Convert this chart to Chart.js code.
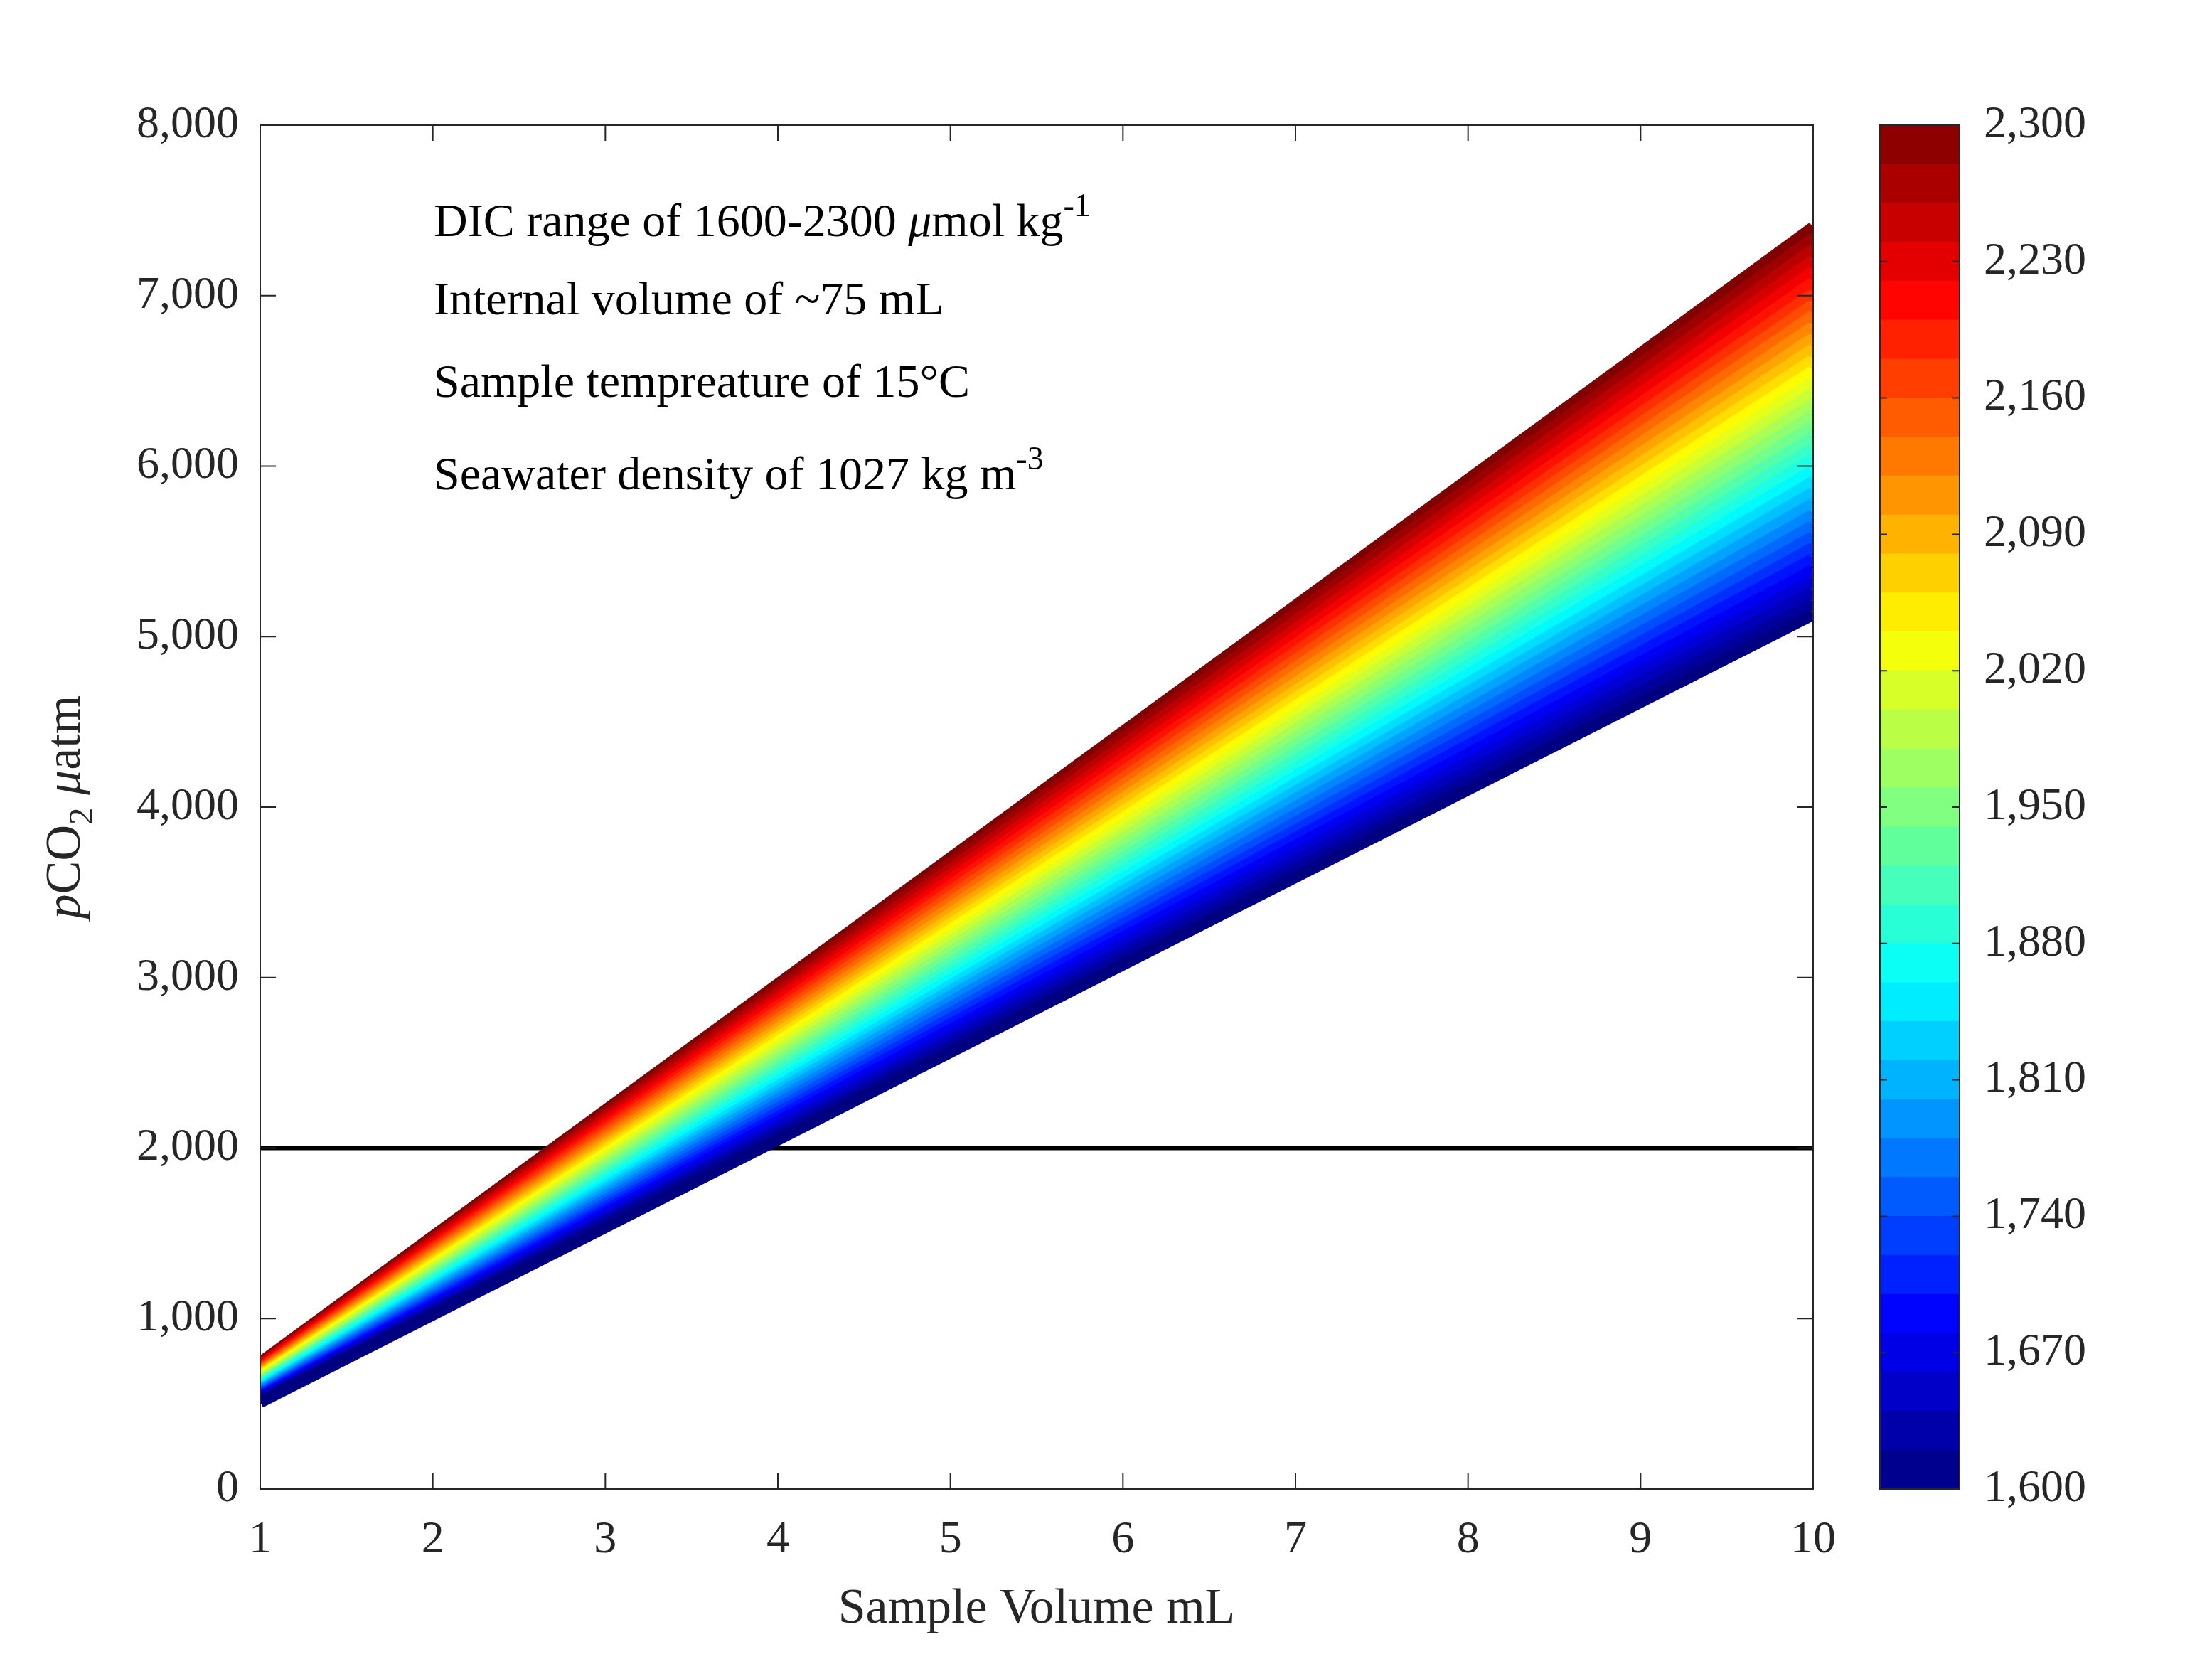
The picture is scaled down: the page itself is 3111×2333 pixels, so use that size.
<!DOCTYPE html>
<html>
<head>
<meta charset="utf-8">
<script src="https://cdn.jsdelivr.net/npm/chart.js@4.4.1/dist/chart.umd.min.js"></script>
<style>
  body { margin: 0; background: #fff; }
  #wrap { position: relative; width: 3111px; height: 2333px; }
  canvas { position: absolute; top: 0; }
</style>
</head>
<body>
<div id="wrap">
  <canvas id="main" width="3111" height="2333" style="left:0"></canvas>
  <canvas id="cbar" width="420" height="2333" style="left:2600px"></canvas>
</div>
<script>
// DIC levels (umol/kg) and pCO2 at the ends of the sample volume range
const volumes = [1, 10];
const dicLevels = [1600,1620,1640,1660,1680,1700,1720,1740,1760,1780,1800,1820,1840,1860,1880,1900,1920,1940,
  1960,1980,2000,2020,2040,2060,2080,2100,2120,2140,2160,2180,2200,2220,2240,2260,2280,2300];
const pco2At1mL = [510,517,523,530,536,543,549,556,563,569,576,582,589,595,602,609,615,622,
  628,635,641,648,655,661,668,674,681,687,694,701,707,714,720,727,733,740];
const pco2At10mL = [5130,5195,5260,5325,5389,5454,5519,5584,5649,5714,5779,5843,5908,5973,6038,6103,6168,6233,
  6297,6362,6427,6492,6557,6622,6687,6751,6816,6881,6946,7011,7076,7141,7205,7270,7335,7400];
const thresholdPco2 = 2000;
const xTicks = [1,2,3,4,5,6,7,8,9,10];
const yTicks = [0,1000,2000,3000,4000,5000,6000,7000,8000];
const cbarTicks = [1600,1670,1740,1810,1880,1950,2020,2090,2160,2230,2300];

const FONT = '"Liberation Serif", "Times New Roman", serif';
const clamp = v => Math.max(0, Math.min(1, v));
function jet(t) {
  const r = clamp(1.5 - Math.abs(4 * t - 3));
  const g = clamp(1.5 - Math.abs(4 * t - 2));
  const b = clamp(1.5 - Math.abs(4 * t - 1));
  return `rgb(${Math.round(r*255)},${Math.round(g*255)},${Math.round(b*255)})`;
}
const dicColor = d => jet((d - 1600) / 700);

// box + inward ticks, MATLAB style
function boxTicks(chart, xs, ys, sides) {
  const { ctx, chartArea: a } = chart;
  ctx.save();
  ctx.strokeStyle = '#262626';
  ctx.lineWidth = 2;
  ctx.strokeRect(a.left, a.top, a.right - a.left, a.bottom - a.top);
  const L = 22;
  ctx.beginPath();
  if (xs) for (const v of xs) {
    const px = chart.scales.x.getPixelForValue(v);
    ctx.moveTo(px, a.bottom); ctx.lineTo(px, a.bottom - L);
    ctx.moveTo(px, a.top); ctx.lineTo(px, a.top + L);
  }
  for (const v of ys) {
    const py = chart.scales.y.getPixelForValue(v);
    if (sides.left) { ctx.moveTo(a.left, py); ctx.lineTo(a.left + sides.len, py); }
    if (sides.right) { ctx.moveTo(a.right, py); ctx.lineTo(a.right - sides.len, py); }
  }
  ctx.stroke();
  ctx.restore();
}

// draws a list of [text, style] pieces; style: 'n','i','sup','sub'
function richText(ctx, x, y, pieces, size) {
  let cx = x;
  for (const [t, s] of pieces) {
    let sz = size, dy = 0, style = '';
    if (s === 'i') style = 'italic ';
    if (s === 'sup') { sz = size * 0.7; dy = -size * 0.42; }
    if (s === 'sub') { sz = size * 0.7; dy = size * 0.25; }
    ctx.font = `${style}${sz}px ${FONT}`;
    ctx.fillText(t, cx, y + dy);
    cx += ctx.measureText(t).width;
  }
  return cx - x;
}
function richWidth(ctx, pieces, size) {
  let w = 0;
  for (const [t, s] of pieces) {
    const sz = (s === 'sup' || s === 'sub') ? size * 0.7 : size;
    ctx.font = `${s === 'i' ? 'italic ' : ''}${sz}px ${FONT}`;
    w += ctx.measureText(t).width;
  }
  return w;
}

const decor = {
  id: 'decor',
  afterDraw(chart) {
    boxTicks(chart, xTicks, yTicks, { left: true, right: true, len: 22 });
    const { ctx, chartArea: a } = chart;
    ctx.save();
    ctx.fillStyle = '#000';
    ctx.textBaseline = 'alphabetic';
    const S = 66;
    const lines = [
      [['DIC range of 1600-2300 ', 'n'], ['\u03bc', 'i'], ['mol kg', 'n'], ['-1', 'sup']],
      [['Internal volume of ~75 mL', 'n']],
      [['Sample tempreature of 15\u00b0C', 'n']],
      [['Seawater density of 1027 kg m', 'n'], ['-3', 'sup']]
    ];
    const base = [332, 442, 558, 688];
    lines.forEach((l, i) => richText(ctx, 610, base[i], l, S));
    // axis titles
    ctx.fillStyle = '#262626';
    const xt = [['Sample Volume mL', 'n']];
    const xw = richWidth(ctx, xt, 70);
    richText(ctx, (a.left + a.right) / 2 - xw / 2, 2282, xt, 70);
    const yt = [['p', 'i'], ['CO', 'n'], ['2', 'sub'], [' \u03bc', 'i'], ['atm', 'n']];
    const yw = richWidth(ctx, yt, 70);
    ctx.translate(112, (a.top + a.bottom) / 2);
    ctx.rotate(-Math.PI / 2);
    richText(ctx, -yw / 2, 0, yt, 70);
    ctx.restore();
  }
};

const datasets = dicLevels.map((d, i) => ({
  data: volumes.map((v, j) => ({ x: v, y: j === 0 ? pco2At1mL[i] : pco2At10mL[i] })),
  borderColor: dicColor(d),
  borderWidth: 17,
  borderCapStyle: 'butt',
  pointRadius: 0,
  clip: { left: 0, right: 0, top: false, bottom: false }
}));
datasets.push({
  data: volumes.map(v => ({ x: v, y: thresholdPco2 })),
  borderColor: '#000',
  borderWidth: 6,
  pointRadius: 0
});

const tickFont = { family: FONT, size: 64 };
new Chart(document.getElementById('main'), {
  type: 'line',
  data: { datasets },
  options: {
    responsive: false, animation: false, devicePixelRatio: 1,
    layout: { padding: { top: 176, right: 561, left: 0, bottom: 0 } },
    plugins: { legend: { display: false }, tooltip: { enabled: false } },
    scales: {
      x: {
        type: 'linear', min: 1, max: 10,
        grid: { display: false }, border: { display: false },
        afterBuildTicks: s => { s.ticks = xTicks.map(v => ({ value: v })); },
        afterFit: s => { s.height = 239; },
        ticks: { font: tickFont, color: '#262626', padding: 26, maxRotation: 0 }
      },
      y: {
        min: 0, max: 8000,
        grid: { display: false }, border: { display: false },
        afterBuildTicks: s => { s.ticks = yTicks.map(v => ({ value: v })); },
        afterFit: s => { s.width = 366; },
        ticks: { font: tickFont, color: '#262626', padding: 22 }
      }
    }
  },
  plugins: [decor]
});

// colorbar: stacked floating segments between consecutive DIC levels
const segs = dicLevels.slice(0, -1).map((d, i) => [d, dicLevels[i + 1]]);
new Chart(document.getElementById('cbar'), {
  type: 'bar',
  data: {
    labels: ['DIC'],
    datasets: segs.map(s => ({
      data: [s],
      backgroundColor: dicColor((s[0] + s[1]) / 2),
      borderWidth: 0,
      barPercentage: 1, categoryPercentage: 1, grouped: false
    }))
  },
  options: {
    responsive: false, animation: false, devicePixelRatio: 1,
    layout: { padding: { top: 176, left: 44, right: 0, bottom: 0 } },
    plugins: { legend: { display: false }, tooltip: { enabled: false } },
    scales: {
      x: { display: true, grid: { display: false }, border: { display: false },
           ticks: { display: false }, afterFit: s => { s.height = 239; } },
      y: {
        position: 'right', min: 1600, max: 2300,
        grid: { display: false }, border: { display: false },
        afterBuildTicks: s => { s.ticks = cbarTicks.map(v => ({ value: v })); },
        afterFit: s => { s.width = 420 - 44 - 112; },
        ticks: { font: tickFont, color: '#262626', padding: 26 }
      }
    }
  },
  plugins: [{ id: 'cbox', afterDraw: c => boxTicks(c, null, cbarTicks, { left: true, right: true, len: 10 }) }]
});
</script>
</body>
</html>
